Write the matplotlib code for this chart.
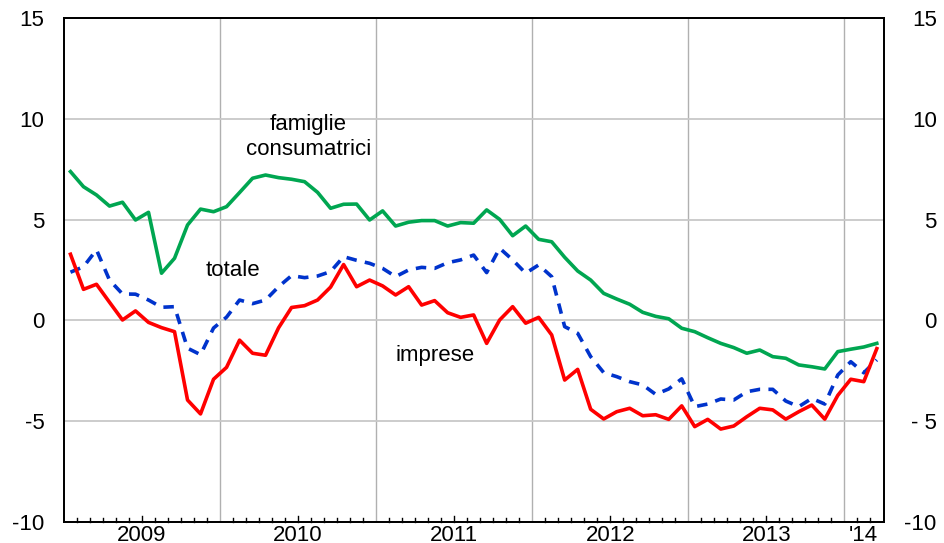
import matplotlib
matplotlib.use("Agg")
import matplotlib.pyplot as plt
import numpy as np

plt.rcParams['font.family'] = ['Liberation Sans', 'DejaVu Sans']

# monthly data, Jan 2009 - Mar 2014
famiglie = [7.38, 6.63, 6.22, 5.67, 5.86, 4.98, 5.36, 2.34, 3.08, 4.73, 5.52, 5.39,
            5.64, 6.34, 7.05, 7.21, 7.08, 7.00, 6.88, 6.35, 5.56, 5.76, 5.77, 4.98,
            5.43, 4.68, 4.87, 4.95, 4.95, 4.68, 4.85, 4.82, 5.48, 5.01, 4.20, 4.68,
            4.02, 3.90, 3.13, 2.45, 2.00, 1.34, 1.06, 0.80, 0.40, 0.20, 0.08, -0.39,
            -0.56, -0.86, -1.14, -1.35, -1.63, -1.47, -1.80, -1.88, -2.21, -2.30, -2.41, -1.55,
            -1.43, -1.32, -1.14]
imprese = [3.28, 1.54, 1.79, 0.90, 0.02, 0.47, -0.10, -0.36, -0.56, -3.95, -4.64, -2.92,
           -2.33, -0.98, -1.63, -1.73, -0.37, 0.64, 0.73, 1.01, 1.65, 2.77, 1.67, 2.00,
           1.71, 1.26, 1.67, 0.76, 0.98, 0.38, 0.15, 0.27, -1.14, 0.02, 0.68, -0.14,
           0.15, -0.72, -2.96, -2.43, -4.41, -4.89, -4.53, -4.36, -4.73, -4.68, -4.91, -4.24,
           -5.27, -4.91, -5.39, -5.24, -4.78, -4.36, -4.44, -4.90, -4.53, -4.20, -4.90, -3.72,
           -2.92, -3.04, -1.40]
totale = [2.39, 2.66, 3.50, 2.00, 1.31, 1.30, 1.01, 0.65, 0.68, -1.38, -1.70, -0.38,
          0.16, 1.01, 0.83, 1.01, 1.67, 2.22, 2.12, 2.20, 2.42, 3.16, 2.98, 2.83,
          2.58, 2.17, 2.50, 2.63, 2.58, 2.86, 3.00, 3.24, 2.37, 3.58, 3.00, 2.34,
          2.75, 2.17, -0.31, -0.64, -1.80, -2.59, -2.79, -3.04, -3.20, -3.67, -3.40, -2.90,
          -4.28, -4.15, -3.90, -3.95, -3.54, -3.42, -3.42, -4.00, -4.28, -3.87, -4.15, -2.71,
          -2.05, -2.60, -1.96]
year_labels = ['2009', '2010', '2011', '2012', '2013', "'14"]
year_months = [12, 12, 12, 12, 12, 3]
yticks = [-10, -5, 0, 5, 10, 15]
yticks_right = ['-10', '- 5', '0', '5', '10', '15']

x = np.arange(len(famiglie))

fig = plt.figure(figsize=(9.45, 5.43), dpi=100)
ax = fig.add_axes([0.0677, 0.0387, 0.8677, 0.9282])

ax.plot(x, famiglie, color='#00a651', lw=2.6, zorder=3)
ax.plot(x, totale, color='#0033cc', lw=2.6, ls=(0, (2.9, 2.3)), zorder=3)
ax.plot(x, imprese, color='#ff0000', lw=2.6, zorder=4)

ax.set_xlim(-0.5, len(x) - 0.45)
ax.set_ylim(-10, 15)

# year boundaries as grid, labels centred in each year
bounds = np.cumsum([0] + year_months) - 0.5
ax.set_xticks(bounds[1:-1])
ax.set_xticklabels([])
ax.grid(axis='x', color='#b0b0b0', lw=1)
ax.grid(axis='y', color='#c8c8c8', lw=1.3)
ax.tick_params(axis='x', length=0)
centers = (bounds[:-1] + bounds[1:]) / 2
for c, lab in zip(centers, year_labels):
    ax.text(c, -10.93, lab, ha='center', va='baseline', fontsize=16)

# monthly minor ticks inside the bottom spine
minor = [m + 0.5 for m in x[:-1] if (m + 0.5) not in bounds]
for m in minor:
    h = 0.32 if (m + 0.5) % 12 == 6 else 0.2
    ax.plot([m, m], [-10, -10 + h], color='black', lw=1, zorder=2, clip_on=False)

ax.set_yticks(yticks)
ax.set_yticklabels([str(v) for v in yticks])
ax.tick_params(axis='y', length=0, labelsize=16, pad=14)

ax2 = ax.twinx()
ax2.set_ylim(-10, 15)
ax2.set_yticks(yticks)
ax2.set_yticklabels(yticks_right)
ax2.tick_params(axis='y', length=0, labelsize=16, pad=38)
for t in ax2.get_yticklabels():
    t.set_horizontalalignment('right')

for a in (ax, ax2):
    for s in a.spines.values():
        s.set_linewidth(1.3)
        s.set_color('black')

ax.text(18.3, 9.1, 'famiglie\nconsumatrici', ha='center', va='center', fontsize=16, linespacing=1.2)
ax.text(12.5, 2.45, 'totale', ha='center', va='center', fontsize=16)
ax.text(28.0, -1.75, 'imprese', ha='center', va='center', fontsize=16)

fig.savefig('out.png', dpi=100)
